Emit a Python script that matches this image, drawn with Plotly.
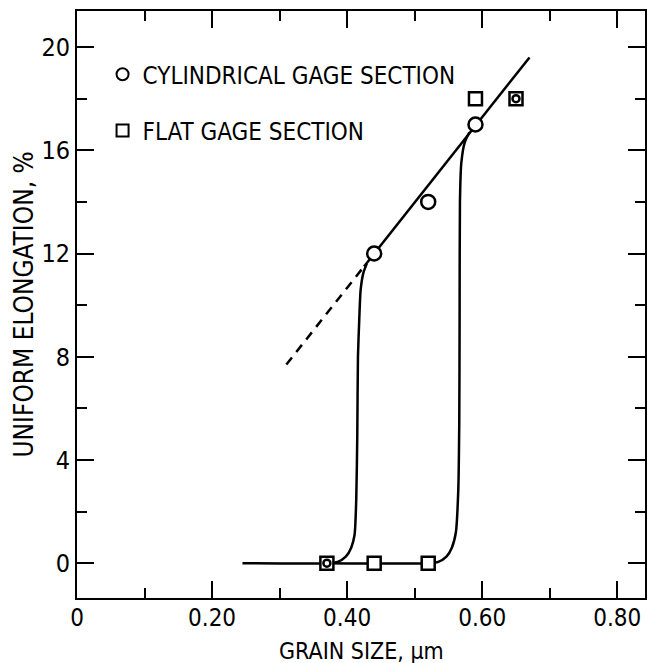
import plotly.graph_objects as go

# Data points
cyl_x = [0.37, 0.44, 0.52, 0.59, 0.65]
cyl_y = [0.0, 12.0, 14.0, 17.0, 18.0]
cyl_size = [7, 14, 14, 14, 7]

flat_x = [0.37, 0.44, 0.52, 0.59, 0.65]
flat_y = [0.0, 0.0, 0.0, 18.0, 18.0]

# Fitted straight line (solid) and its dashed extrapolation
fit_x = [0.425, 0.67]
fit_y = [11.5, 19.6]
ext_x = [0.31, 0.425]
ext_y = [7.7, 11.5]

# Transition curves
curve1_x = [0.245, 0.37, 0.386, 0.398, 0.406, 0.411, 0.4135, 0.415, 0.416, 0.418, 0.420, 0.424, 0.429]
curve1_y = [0.0, 0.0, 0.05, 0.25, 0.6, 1.1, 2.5, 5.0, 8.0, 9.5, 10.6, 11.25, 11.6]
curve2_x = [0.37, 0.52, 0.535, 0.547, 0.555, 0.561, 0.5645, 0.566, 0.5665, 0.567, 0.569, 0.574, 0.581]
curve2_y = [0.0, 0.0, 0.05, 0.25, 0.6, 1.2, 2.8, 5.5, 9.5, 14.0, 15.5, 16.3, 16.7]

x_ticks = [0, 0.2, 0.4, 0.6, 0.8]
x_labels = ["0", "0.20", "0.40", "0.60", "0.80"]
y_ticks = [0, 4, 8, 12, 16, 20]
y_labels = ["0", "4", "8", "12", "16", "20"]

x_title = "GRAIN SIZE, \u03bcm"
y_title = "UNIFORM ELONGATION, %"

FONT = "DejaVu Sans Condensed, Liberation Sans Narrow, Liberation Sans, sans-serif"
LW = 2.5

fig = go.Figure()
fig.add_trace(go.Scatter(x=curve1_x, y=curve1_y, mode="lines", showlegend=False,
                         line=dict(color="black", width=LW, shape="spline", smoothing=0.6)))
fig.add_trace(go.Scatter(x=curve2_x, y=curve2_y, mode="lines", showlegend=False,
                         line=dict(color="black", width=LW, shape="spline", smoothing=0.6)))
fig.add_trace(go.Scatter(x=fit_x, y=fit_y, mode="lines", showlegend=False,
                         line=dict(color="black", width=LW)))
fig.add_trace(go.Scatter(x=ext_x, y=ext_y, mode="lines", showlegend=False,
                         line=dict(color="black", width=LW, dash="9px,7px")))
fig.add_trace(go.Scatter(x=flat_x, y=flat_y, mode="markers", name="FLAT GAGE SECTION",
                         legendgroup="b", legendrank=2,
                         marker=dict(symbol="square", size=13, color="white", opacity=1,
                                     line=dict(color="#000000", width=2.5))))
fig.add_trace(go.Scatter(x=cyl_x, y=cyl_y, mode="markers", name="CYLINDRICAL GAGE SECTION",
                         legendgroup="a", legendrank=1,
                         marker=dict(symbol="circle", size=cyl_size, color="white", opacity=1,
                                     line=dict(color="#000000", width=2.5))))

axis_common = dict(showgrid=False, zeroline=False, showline=True, linecolor="black",
                   linewidth=2, mirror="ticks", ticks="inside", tickcolor="black",
                   tickwidth=2, ticklen=17, automargin=False)

fig.update_xaxes(range=[0, 0.841], tickvals=x_ticks, ticktext=x_labels,
                 tickfont=dict(family=FONT, size=24, color="black"), ticklabelstandoff=-3,
                 minor=dict(dtick=0.1, tick0=0, ticks="inside", ticklen=10,
                            tickwidth=2, tickcolor="black"),
                 **axis_common)
fig.update_yaxes(range=[-1.35, 21.4], tickvals=y_ticks, ticktext=y_labels,
                 tickfont=dict(family=FONT, size=25, color="black"),
                 minor=dict(dtick=2, tick0=0, ticks="inside", ticklen=10,
                            tickwidth=2, tickcolor="black"),
                 **axis_common)

fig.add_annotation(text=x_title, xref="paper", yref="paper", x=0.5, y=-0.09,
                   xanchor="center", yanchor="middle", showarrow=False,
                   font=dict(family=FONT, size=23, color="black"))
fig.add_annotation(text=y_title, xref="paper", yref="paper", x=-0.095, y=0.5,
                   xanchor="center", yanchor="middle", showarrow=False, textangle=-90,
                   font=dict(family=FONT, size=26, color="black"))

fig.update_layout(
    width=653, height=663,
    margin=dict(l=77, r=8, t=11, b=65),
    plot_bgcolor="white", paper_bgcolor="white",
    legend=dict(x=0.045, y=0.93, xanchor="left", yanchor="top",
                font=dict(family=FONT, size=24, color="black"),
                bgcolor="rgba(0,0,0,0)", tracegroupgap=22, itemsizing="constant",
                traceorder="grouped"),
)

fig.write_html("out.html")
